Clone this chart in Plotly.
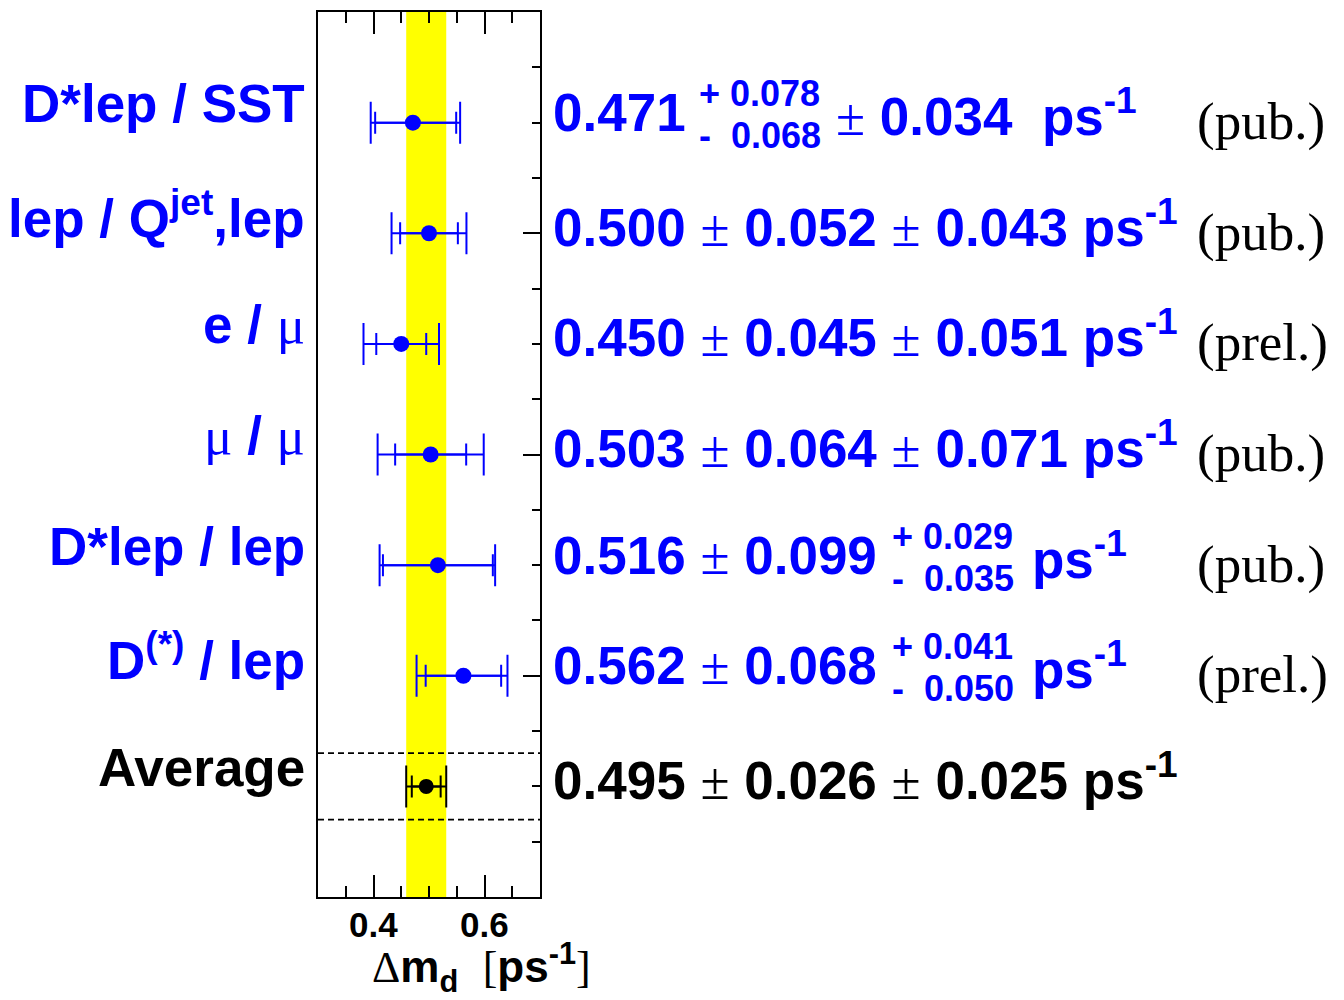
import plotly.graph_objects as go

# Delta m_d measurements (ps^-1)
labels = ["D*lep / SST", "lep / Q<sup>jet</sup>,lep", "e / μ", "μ / μ",
          "D*lep / lep", "D<sup>(*)</sup> / lep"]
values = [0.471, 0.500, 0.450, 0.503, 0.516, 0.562]
stat_plus = [0.078, 0.052, 0.045, 0.064, 0.099, 0.068]
stat_minus = [0.068, 0.052, 0.045, 0.064, 0.099, 0.068]
syst_plus = [0.034, 0.043, 0.051, 0.071, 0.029, 0.041]
syst_minus = [0.034, 0.043, 0.051, 0.071, 0.035, 0.050]
status = ["(pub.)", "(pub.)", "(prel.)", "(pub.)", "(pub.)", "(prel.)"]
rows = [7, 6, 5, 4, 3, 2]

avg_label = "Average"
avg_value = 0.495
avg_stat = 0.026
avg_syst = 0.025
avg_row = 1

x_ticks = [0.4, 0.6]
x_ticklabels = ["0.4", "0.6"]

BLUE = "rgb(0,0,255)"
BLACK = "black"
SANS = "Liberation Sans"
SERIF = "Liberation Serif"

# plot frame in pixels
L, R, T, B = 318, 540, 10, 897
W, H = 1344, 1000

BIG = 53     # main text size
SMALL = 36   # stacked asymmetric errors


def px(x):
    """horizontal pixel -> paper coordinate"""
    return (x - L) / (R - L)


def quad(a, b):
    return (a * a + b * b) ** 0.5


def sym(s):
    return f"<span style=\"font-family:{SERIF};font-weight:normal\">{s}</span>"


tot_plus = [quad(a, b) for a, b in zip(stat_plus, syst_plus)]
tot_minus = [quad(a, b) for a, b in zip(stat_minus, syst_minus)]
avg_tot = quad(avg_stat, avg_syst)

fig = go.Figure()

# yellow band: average +- total error
fig.add_shape(type="rect", xref="x", yref="paper",
              x0=avg_value - avg_tot, x1=avg_value + avg_tot, y0=0, y1=1,
              fillcolor="yellow", line_width=0, layer="below")
# dashed box around the average
for dy in (-0.3, 0.3):
    fig.add_shape(type="line", xref="paper", yref="y", x0=0, x1=1,
                  y0=avg_row + dy, y1=avg_row + dy,
                  line=dict(color="black", width=1.8, dash="6px,4px"))


def add_points(xs, ys, sp, sm, tp, tm, color, msize):
    # total errors (long caps)
    fig.add_trace(go.Scatter(
        x=xs, y=ys, mode="markers",
        marker=dict(size=1, color="rgba(0,0,0,0)"),
        error_x=dict(type="data", symmetric=False, array=tp, arrayminus=tm,
                     color=color, thickness=2, width=21),
        showlegend=False, hoverinfo="skip"))
    # statistical errors (short caps) and central values
    fig.add_trace(go.Scatter(
        x=xs, y=ys, mode="markers",
        marker=dict(size=msize, color=color),
        error_x=dict(type="data", symmetric=False, array=sp, arrayminus=sm,
                     color=color, thickness=2, width=11),
        showlegend=False))


add_points(values, rows, stat_plus, stat_minus, tot_plus, tot_minus, BLUE, 16)
add_points([avg_value], [avg_row], [avg_stat], [avg_stat], [avg_tot], [avg_tot],
           BLACK, 15)

ann = []


def text(x, y, s, color, size=BIG, family=SANS, xanchor="left", yshift=0):
    ann.append(dict(x=px(x), xref="paper", y=y, yref="y", text=s,
                    showarrow=False, xanchor=xanchor, yanchor="middle",
                    yshift=yshift,
                    font=dict(family=family, size=size, color=color)))


pm = sym("±")
for lab, v, sp, sm, yp, ym, st, r in zip(labels, values, stat_plus, stat_minus,
                                          syst_plus, syst_minus, status, rows):
    lab_html = lab.replace("μ", sym("μ"))
    text(307, r, f"<b>{lab_html}</b>", BLUE, size=53, xanchor="right", yshift=19)
    if sp != sm:
        text(551, r, f"<b>{v:.3f}</b>", BLUE, yshift=10)
        text(697, r, f"<b>+ {sp:.3f}</b>", BLUE, size=SMALL, yshift=29)
        text(697, r, f"<b>-  {sm:.3f}</b>", BLUE, size=SMALL, yshift=-13)
        text(834, r, f"{pm} <b>{yp:.3f}  ps<sup>-1</sup></b>", BLUE, yshift=10)
    elif yp != ym:
        text(551, r, f"<b>{v:.3f}</b> {pm} <b>{sp:.3f}</b>", BLUE, yshift=10)
        text(890, r, f"<b>+ {yp:.3f}</b>", BLUE, size=SMALL, yshift=29)
        text(890, r, f"<b>-  {ym:.3f}</b>", BLUE, size=SMALL, yshift=-13)
        text(1030, r, "<b>ps<sup>-1</sup></b>", BLUE, yshift=10)
    else:
        text(551, r, f"<b>{v:.3f}</b> {pm} <b>{sp:.3f}</b> {pm} "
                     f"<b>{yp:.3f} ps<sup>-1</sup></b>", BLUE, yshift=10)
    text(1195, r, st, BLACK, size=53, family=SERIF, yshift=1)

text(307, avg_row, f"<b>{avg_label}</b>", BLACK, size=53, xanchor="right",
     yshift=19)
text(551, avg_row, f"<b>{avg_value:.3f}</b> {pm} <b>{avg_stat:.3f}</b> {pm} "
                   f"<b>{avg_syst:.3f} ps<sup>-1</sup></b>", BLACK, yshift=10)

# x tick labels, placed at the tick values
for tv, tl in zip(x_ticks, x_ticklabels):
    ann.append(dict(x=tv, xref="x", y=0, yref="paper", text=f"<b>{tl}</b>",
                    showarrow=False, xanchor="center", yanchor="top",
                    yshift=-6,
                    font=dict(family=SANS, size=35, color="black")))

# x-axis title
ann.append(dict(x=px(370), xref="paper", y=-0.08, yref="paper",
                text=f"{sym('Δ')}<b>m<sub>d</sub></b>  {sym('[')}<b>ps<sup>-1</sup></b>{sym(']')}",
                showarrow=False, xanchor="left", yanchor="middle",
                font=dict(family=SANS, size=44, color="black")))

fig.update_layout(
    width=W, height=H,
    margin=dict(l=L, r=W - R, t=T, b=H - B, pad=0),
    paper_bgcolor="white", plot_bgcolor="white",
    annotations=ann,
    xaxis=dict(range=[0.3, 0.7], tickvals=x_ticks, showticklabels=False,
               ticks="inside", ticklen=22, tickwidth=2, tickcolor="black",
               mirror="ticks", showline=True, linewidth=2, linecolor="black",
               showgrid=False, zeroline=False,
               minor=dict(dtick=0.05, tick0=0.3, ticks="inside", ticklen=11,
                          tickwidth=2, tickcolor="black", showgrid=False)),
    yaxis=dict(range=[0, 8], side="right", tickvals=[0, 2, 4, 6, 8],
               showticklabels=False, ticks="inside", ticklen=17, tickwidth=2,
               tickcolor="black", mirror=True, showline=True, linewidth=2,
               linecolor="black", showgrid=False, zeroline=False,
               minor=dict(dtick=0.5, tick0=0, ticks="inside", ticklen=8,
                          tickwidth=2, tickcolor="black", showgrid=False)),
)

fig.write_html("out.html")
